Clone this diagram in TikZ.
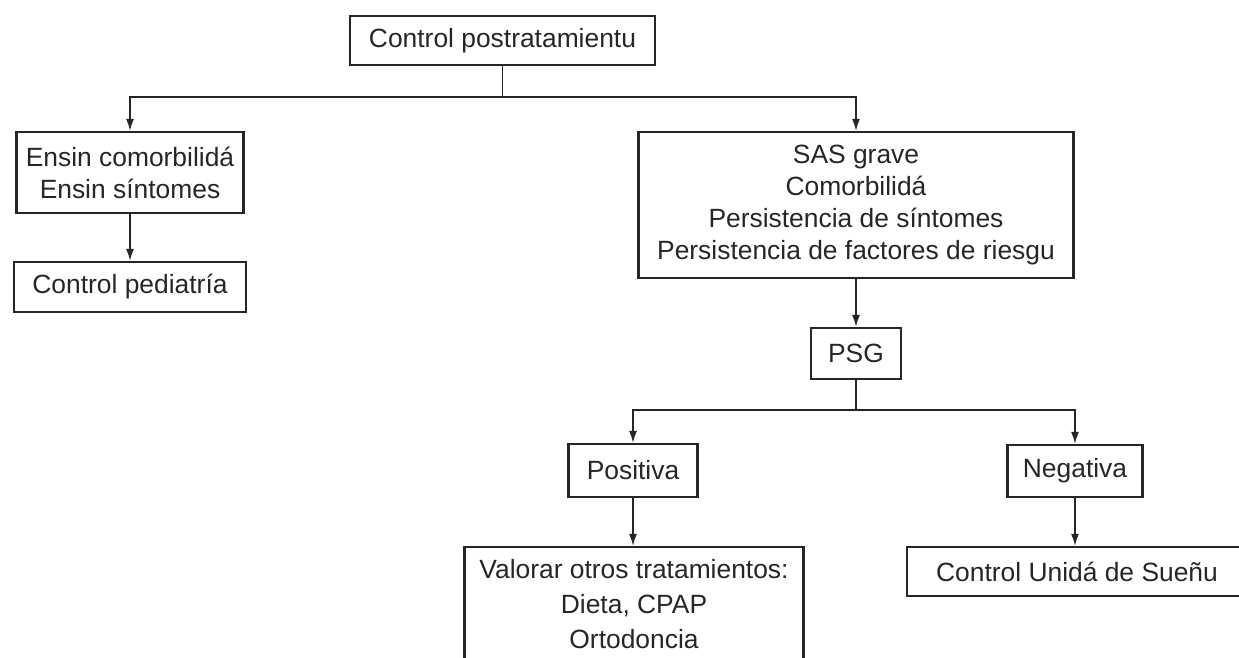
\documentclass[tikz,border=0pt]{standalone}
\usepackage{fontspec}
\setmainfont{Liberation Sans}
\usetikzlibrary{arrows.meta}

\begin{document}
\begin{tikzpicture}[x=1pt,y=-1pt,
  caja/.style={draw=black!85,line width=2.2pt,inner sep=0pt,align=center,text=black!85,font=\fontsize{26.4}{32}\selectfont},
  linea/.style={black!85,line width=1.6pt},
  flecha/.style={->,>={Latex[length=12pt,width=8pt]},black!85,line width=1.6pt}]
\useasboundingbox (0,0) rectangle (1239,657);

\node[caja,minimum width=305pt,minimum height=49pt] (B1) at (502.5,40.5) {Control postratamientu};
\node[caja,minimum width=227pt,minimum height=81pt] (B2) at (130,172.5) {Ensin comorbilidá\\Ensin síntomes};
\node[caja,minimum width=232pt,minimum height=50pt] (B3) at (130,287) {Control pediatría};
\node[caja,minimum width=435pt,minimum height=146pt] (B4) at (856,205) {SAS grave\\Comorbilidá\\Persistencia de síntomes\\Persistencia de factores de riesgu};
\node[caja,minimum width=90pt,minimum height=51pt] (B5) at (856,353.5) {PSG};
\node[caja,minimum width=129pt,minimum height=53pt] (B6) at (633,470.5) {Positiva};
\node[caja,minimum width=135pt,minimum height=52pt] (B7) at (1075,471) {Negativa};
\node[caja,minimum width=339pt,minimum height=114pt,font=\fontsize{26.4}{35}\selectfont] (B8) at (634,604) {Valorar otros tratamientos:\\Dieta, CPAP\\Ortodoncia};
\node[caja,minimum width=340pt,minimum height=49pt] (B9) at (1077,571.5) {Control Unidá de Sueñu};

\coordinate (J1) at (502.5,97);
\coordinate (J2) at (856,410);

\draw[linea] (B1) -- (J1);
\draw[flecha] (J1) -| (B2);
\draw[flecha] (J1) -| (B4);
\path[flecha] (B2) edge (B3);
\path[flecha] (B4) edge (B5);

\draw[linea] (B5) -- (J2);
\draw[flecha] (J2) -| (B6);
\draw[flecha] (J2) -| (B7);
\path[flecha] (B6) edge (B6 |- B8.north);
\path[flecha] (B7) edge (B7 |- B9.north);
\end{tikzpicture}
\end{document}
